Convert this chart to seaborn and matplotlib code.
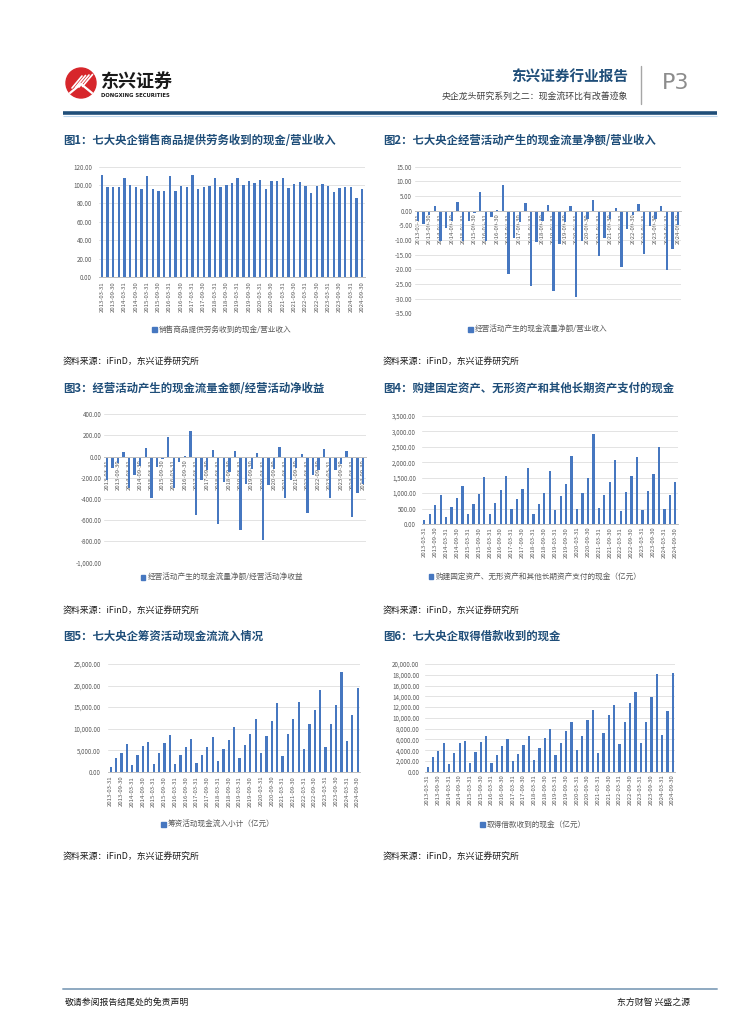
import numpy as np
import pandas as pd
import matplotlib
matplotlib.use("Agg")
import matplotlib.pyplot as plt
from matplotlib.patches import Patch, Circle
import seaborn as sns

sns.set_style("white")
plt.rcParams['font.family'] = ['Noto Sans CJK SC', 'DejaVu Sans']

W, H = 755, 1024
BLUE = "#4677C0"
NAVY = "#1F4E79"
GREY = "#595959"

# quarter end dates 2013-03-31 .. 2024-09-30
quarters = [f"{y}-{md}" for y in range(2013, 2025)
            for md in ("03-31", "06-30", "09-30", "12-31")][:47]

sales_cash_ratio = [111, 98, 97.5, 97.5, 108, 100.5, 97.5, 96, 110, 96, 94, 94,
                    110, 94, 99, 98, 111, 96, 97.5, 99.5, 108, 97.5, 100.5, 102.5,
                    108, 100.5, 104.5, 102.5, 105.5, 96, 104.5, 104.5, 108, 97, 101, 103,
                    99.5, 91.5, 99, 101, 99, 92.5, 97, 97.5, 98, 86, 95.5]

ocf_revenue = [-3.5, -4.5, -1.5, 1.5, -10.5, -6, -3.5, 2.8, -10.5, -3.6, -0.8, 6.5,
               -10.5, -2, 0.3, 8.8, -21.7, -9.2, -4, 2.5, -25.8, -10.8, -3.5, 2,
               -27.5, -11.2, -4, 1.5, -29.4, -10.5, -3, 3.7, -15.3, -9.2, -3, 0.8,
               -19.3, -6.3, -1.4, 2.4, -14.7, -5.1, -3, 1.7, -20.3, -13, -5]

ocf_net_income = [-220, -110, -60, 40, -300, -175, -90, 80, -390, -100, -25, 185,
                  -300, -50, 5, 240, -550, -220, -130, 60, -640, -245, -150, 50,
                  -690, -255, -120, 35, -790, -265, -120, 90, -390, -225, -110, 20,
                  -530, -170, -130, 70, -390, -125, -70, 50, -570, -345, -260]

capex = [140, 320, 610, 925, 225, 540, 840, 1225, 310, 645, 970, 1530,
         320, 680, 1095, 1540, 485, 800, 1130, 1820, 320, 645, 1000, 1710,
         450, 915, 1300, 2205, 475, 1020, 1475, 2925, 525, 935, 1375, 2065,
         420, 1030, 1550, 2160, 450, 1065, 1610, 2485, 485, 935, 1355]

financing_inflow = [1000, 3200, 4350, 6350, 1550, 3950, 5900, 6900, 1850, 4350, 6750, 8500,
                    1850, 3950, 5750, 7500, 2100, 3950, 5750, 8050, 2500, 5250, 7350, 10300,
                    3200, 6250, 8750, 12250, 4350, 8350, 11750, 15950, 3650, 8650, 12250, 16200,
                    5250, 11050, 14250, 18950, 5750, 11050, 15500, 23150, 7050, 13150, 19450]

borrowing_cash = [870, 2720, 3780, 5320, 1490, 3470, 5320, 5700, 1670, 3710, 5510, 6620,
                  1670, 3100, 4700, 6070, 2040, 3280, 4950, 6680, 2230, 4390, 6310, 7860,
                  3100, 5320, 7550, 9220, 4020, 6680, 9590, 11390, 3530, 7180, 10520, 12380,
                  5080, 9160, 12750, 14790, 5320, 9160, 13870, 18200, 6800, 11270, 18260]

charts = [
    dict(title="图1：七大央企销售商品提供劳务收到的现金/营业收入",
         legend="销售商品提供劳务收到的现金/营业收入", values=sales_cash_ratio,
         box=(99, 166.7, 365, 277), ylim=(0, 120), step=20, ypad=5, xpad=3,
         tx=63, ty=141, lx=222, ly=330, src=362),
    dict(title="图2：七大央企经营活动产生的现金流量净额/营业收入",
         legend="经营活动产生的现金流量净额/营业收入", values=ocf_revenue,
         box=(415, 166.7, 681, 313.3), ylim=(-35, 15), step=5, ypad=2, xpad=2,
         tx=383, ty=141, lx=538, ly=330, src=362),
    dict(title="图3：经营活动产生的现金流量金额/经营活动净收益",
         legend="经营活动产生的现金流量净额/经营活动净收益", values=ocf_net_income,
         box=(104, 414.3, 366, 562.3), ylim=(-1000, 400), step=200, ypad=2, xpad=2,
         tx=63, ty=388, lx=222, ly=578, src=611),
    dict(title="图4：购建固定资产、无形资产和其他长期资产支付的现金",
         legend="购建固定资产、无形资产和其他长期资产支付的现金（亿元）", values=capex,
         box=(421.6, 416, 678, 524), ylim=(0, 3500), step=500, ypad=4, xpad=2,
         tx=383, ty=388, lx=535, ly=577, src=611),
    dict(title="图5：七大央企筹资活动现金流流入情况",
         legend="筹资活动现金流入小计（亿元）", values=financing_inflow,
         box=(108, 664, 360.4, 771.7), ylim=(0, 25000), step=5000, ypad=5, xpad=3,
         tx=63, ty=636, lx=218, ly=825, src=857),
    dict(title="图6：七大央企取得借款收到的现金",
         legend="取得借款收到的现金（亿元）", values=borrowing_cash,
         box=(425, 664, 675.4, 771.7), ylim=(0, 20000), step=2000, ypad=4, xpad=2,
         tx=383, ty=636, lx=533, ly=825, src=857),
]


def rect(x0, y0, x1, y1):
    return [x0 / W, 1 - y1 / H, (x1 - x0) / W, (y1 - y0) / H]


fig = plt.figure(figsize=(W / 100, H / 100), dpi=100)

# header and footer drawn in pixel coordinates
hdr = fig.add_axes([0, 0, 1, 1])
hdr.set_xlim(0, W)
hdr.set_ylim(H, 0)
hdr.axis("off")
hdr.add_patch(Circle((81, 83), 15, color="#D7262B"))
for k in range(4):
    hdr.plot([72 + k * 3.5, 82 + k * 3.5], [88 - k * 0.5, 76 - k * 0.5], color="white", lw=1.2)
hdr.plot([70, 81, 92], [93, 84, 93], color="white", lw=1.6)
hdr.text(101, 81, "东兴证券", fontsize=13, fontweight="bold", color="#1A1A1A", va="center")
hdr.text(101, 95.5, "DONGXING SECURITIES", fontsize=3.8, fontweight="bold",
         color="#1A1A1A", va="center", family="DejaVu Sans")
hdr.text(628, 77, "东兴证券行业报告", fontsize=10.5, fontweight="bold", color=NAVY,
         ha="right", va="center")
hdr.text(628, 97, "央企龙头研究系列之二：现金流环比有改善迹象", fontsize=6.4,
         color="#404040", ha="right", va="center")
hdr.plot([641, 641], [66, 104], color="#A6A6A6", lw=1)
hdr.text(662, 83, "P3", fontsize=16, color="#8C8C8C", va="center", family="DejaVu Sans")
hdr.plot([63, 717], [113, 113], color="#1F4E79", lw=2.6, solid_capstyle="butt")
hdr.plot([63, 717], [115.5, 115.5], color="#BDD7EE", lw=0.8, solid_capstyle="butt")

hdr.plot([63, 717], [989, 989], color="#8EA9C1", lw=1.4)
hdr.text(65, 1002, "敬请参阅报告结尾处的免责声明", fontsize=6.4, color="#1A1A1A", va="center")
hdr.text(690, 1002, "东方财智 兴盛之源", fontsize=6.4, color="#1A1A1A", va="center", ha="right")

ticks = list(range(0, 47, 2))
for c in charts:
    ax = fig.add_axes(rect(*c["box"]))
    df = pd.DataFrame({"quarter": quarters, "value": c["values"]})
    sns.barplot(data=df, x="quarter", y="value", color=BLUE, width=0.42,
                saturation=1, linewidth=0, ax=ax)
    lo, hi = c["ylim"]
    # axis line sits on zero for the charts with negative values
    if lo < 0:
        ax.spines["bottom"].set_position(("data", 0))
    ax.set_xlim(-0.5, 46.5)
    ax.set_ylim(lo, hi)
    yt = np.arange(lo, hi + c["step"] / 2, c["step"])
    ax.set_yticks(yt)
    ax.set_yticklabels([f"{v:,.2f}" for v in yt])
    ax.set_xticks(ticks)
    ax.set_xticklabels([quarters[i] for i in ticks], rotation=90, va="top")
    ax.set_xlabel("")
    ax.set_ylabel("")
    ax.yaxis.grid(True, color="#E3E3E3", lw=0.7)
    ax.set_axisbelow(True)
    for s in ("left", "right", "top"):
        ax.spines[s].set_visible(False)
    ax.spines["bottom"].set_color("#BFBFBF")
    ax.spines["bottom"].set_linewidth(0.7)
    ax.tick_params(axis="y", length=0, labelsize=4.5, labelcolor=GREY, pad=c["ypad"])
    ax.tick_params(axis="x", length=0, labelsize=4.3, labelcolor=GREY, pad=c["xpad"])
    ax.legend(handles=[Patch(color=BLUE, label=c["legend"])], loc="center",
              bbox_to_anchor=(c["lx"] / W, 1 - c["ly"] / H), bbox_transform=fig.transFigure,
              frameon=False, fontsize=5.5, labelcolor=GREY, handlelength=0.6,
              handleheight=0.6, handletextpad=0.3)
    fig.text(c["tx"] / W, 1 - c["ty"] / H, c["title"], fontsize=8.2, fontweight="bold",
             color=NAVY, va="center")
    fig.text(c["tx"] / W, 1 - c["src"] / H, "资料来源：iFinD，东兴证券研究所", fontsize=6.4,
             color="#1A1A1A", va="center")

fig.savefig("out.png", dpi=100)
